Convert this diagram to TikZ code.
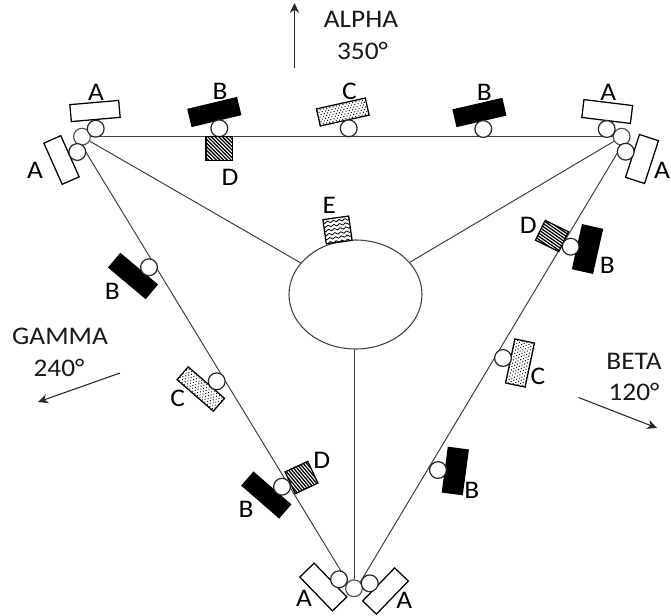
\documentclass[tikz,border=0pt]{standalone}
\usepackage{fontspec}
\setmainfont[FakeStretch=1.08]{Carlito}
\usetikzlibrary{arrows.meta,shapes.geometric}
\definecolor{ln}{gray}{0.25}
\newcommand{\myhatch}[1]{%
  \foreach \k in {-14,...,14}{%
    \pgfmathsetmacro{\hx}{30*cos(#1)}\pgfmathsetmacro{\hy}{30*sin(#1)}%
    \pgfmathsetmacro{\ox}{-\k*1.95*sin(#1)}\pgfmathsetmacro{\oy}{\k*1.95*cos(#1)}%
    \draw[draw=black,line width=0.95pt] ({(\ox-\hx)*1pt},{(\oy-\hy)*1pt}) -- ({(\ox+\hx)*1pt},{(\oy+\hy)*1pt});}}
\newcommand{\mydots}{%
  \foreach \i in {-12,...,12}{\foreach \j in {-5,...,5}{%
    \fill[black] ({\i*2.5pt+mod(abs(\j),2)*1.25pt},{\j*1.8pt}) circle (0.5pt);}}}
\newcommand{\myzig}{%
  \foreach \j in {-5,...,5}{%
    \draw[line width=0.6pt,line join=round] (-12pt,\j*3.1pt) \foreach \i in {-5,...,5}{ -- ({\i*2.2pt},{\j*3.1pt+mod(abs(\i),2)*1.5pt})};}}
\tikzset{
  bar/.style n args={3}{rectangle,draw=black,line width=0.95pt,fill=white,inner sep=0pt,
    minimum width=#1*0.75pt,minimum height=#2*0.75pt,rotate=#3},
  solidbar/.style={fill=black},
  hatchbar/.style={path picture={\myhatch{#1}}},
  dotbar/.style={path picture={\mydots}},
  zigbar/.style={path picture={\myzig}},
  wheel/.style={circle,draw=black!85,line width=0.9pt,fill=white,inner sep=0pt,minimum size=12.6pt},
  hub/.style={circle,draw=black!70,line width=0.85pt,fill=white,inner sep=0pt,minimum size=12.6pt},
  lbl/.style={inner sep=0pt,font=\fontsize{19}{22}\selectfont,text=black},
  txt/.style={inner sep=0pt,font=\fontsize{19}{22}\selectfont,text=black!90},
  conn/.style={draw=ln,line width=0.75pt},
  dir/.style={draw=black!85,line width=0.8pt,-{Stealth[length=7.5pt,width=7pt]}}
}
\begin{document}
\begin{tikzpicture}[x=0.75pt,y=-0.75pt]
\useasboundingbox (0,0) rectangle (671,615);
% central body and corner hubs
\node[ellipse,draw=black!75,line width=0.8pt,inner sep=0pt,minimum width=99.75pt,minimum height=81.75pt] (body) at (355.5,294.5) {};
\node[hub] (hubTL) at (82,136.7) {};
\node[hub] (hubTR) at (621.7,136.7) {};
\node[hub] (hubB) at (354,588.3) {};
% connectors
\draw[conn] (hubTL) -- (hubTR);
\draw[conn] (hubTL.south) -- (hubB.north west);
\draw[conn] (hubTR.south) -- (hubB.north east);
\draw[conn] (hubTL) -- (body);
\draw[conn] (hubTR) -- (body);
\draw[conn] (hubB) -- (hubB |- body.south);
% top side
\node[bar={49}{17}{5}] (a1) at (95,111) {};
\node[wheel] (wa1) at (95.7,128.7) {};
\node[bar={45}{18.5}{-66}] (a2) at (61.5,160) {};
\node[wheel] (wa2) at (77.3,152) {};
\node[bar={50}{17.5}{13.5},solidbar] (b1) at (214.3,112) {};
\node[wheel] (wb1) at (219.3,128.3) {};
\node[bar={26.3}{24}{0},hatchbar=-45] (d1) at (219.2,148.3) {};
\node[bar={50}{17.5}{12.5},dotbar] (c1) at (342.8,112) {};
\node[wheel] (wc1) at (348.7,128.3) {};
\node[bar={50}{17}{13},solidbar] (b2) at (479.4,112.5) {};
\node[wheel] (wb2) at (483.3,129) {};
\node[bar={49}{18}{-7}] (a3) at (607.2,111.5) {};
\node[wheel] (wa3) at (606.7,129) {};
\node[bar={45}{20}{72}] (a4) at (642,159) {};
\node[wheel] (wa4) at (625.7,151.7) {};
% body
\node[bar={26}{24.5}{8},zigbar] (e1) at (337.5,230) {};
% right side
\node[bar={26}{22}{-26},hatchbar=-9] (d2) at (552,236) {};
\node[bar={45}{20.5}{77.3},solidbar] (b3) at (587.5,249) {};
\node[wheel] (wb3) at (570.7,246.7) {};
\node[bar={45}{20}{78},dotbar] (c2) at (520,363) {};
\node[wheel] (wc2) at (503,358) {};
\node[bar={45}{20}{82.4},solidbar] (b4) at (455.3,471) {};
\node[wheel] (wb4) at (438,470) {};
\node[bar={46}{19}{46}] (a5) at (385.5,591) {};
\node[wheel] (wa5) at (369.7,583.3) {};
% left side
\node[bar={47}{20}{-46}] (a6) at (323.3,587) {};
\node[wheel] (wa6) at (339,579.3) {};
\node[bar={25}{24}{25},hatchbar=-75] (d3) at (301.5,477.5) {};
\node[bar={49}{17.5}{-41},solidbar] (b5) at (266.3,495) {};
\node[wheel] (wb5) at (282,486.7) {};
\node[bar={48}{17}{-41},dotbar] (c3) at (200.8,389) {};
\node[wheel] (wc3) at (216.7,381.3) {};
\node[bar={48}{18}{-40},solidbar] (b6) at (133,276) {};
\node[wheel] (wb6) at (149,267.3) {};
% labels
\node[lbl] (la1) at (96,92.7) {A};
\node[lbl] (la2) at (35,170) {A};
\node[lbl] (la3) at (608.3,92.7) {A};
\node[lbl] (la4) at (662,170) {A};
\node[lbl] (la5) at (404.3,600.5) {A};
\node[lbl] (la6) at (304,598.3) {A};
\node[lbl] (lb1) at (220,91.7) {B};
\node[lbl] (lb2) at (484.3,92.7) {B};
\node[lbl] (lb3) at (607.3,265) {B};
\node[lbl] (lb4) at (471.7,490) {B};
\node[lbl] (lb5) at (246,509) {B};
\node[lbl] (lb6) at (112.3,291) {B};
\node[lbl] (lc1) at (349.3,91) {C};
\node[lbl] (lc2) at (538,376) {C};
\node[lbl] (lc3) at (177.7,398.3) {C};
\node[lbl] (ld1) at (230,177) {D};
\node[lbl] (ld2) at (528.3,225.7) {D};
\node[lbl] (ld3) at (321.7,460.7) {D};
\node[lbl] (le1) at (329.3,205) {E};
% directions
\node[txt] (alpha) at (361,19.5) {ALPHA};
\node[txt] (alphaA) at (362.5,51) {350°};
\node[txt] (gamma) at (60,336.5) {GAMMA};
\node[txt] (gammaA) at (59,368) {240°};
\node[txt] (beta) at (634,361) {BETA};
\node[txt] (betaA) at (634,392) {120°};
\coordinate (p1) at (294.5,68);
\coordinate (p2) at (294.5,3);
\coordinate (g1) at (120,373);
\coordinate (g2) at (38,402);
\coordinate (r1) at (578.5,397.5);
\coordinate (r2) at (657,428);
\draw[dir] (p1) -- (p2);
\draw[dir] (g1) -- (g2);
\draw[dir] (r1) -- (r2);
\end{tikzpicture}
\end{document}
